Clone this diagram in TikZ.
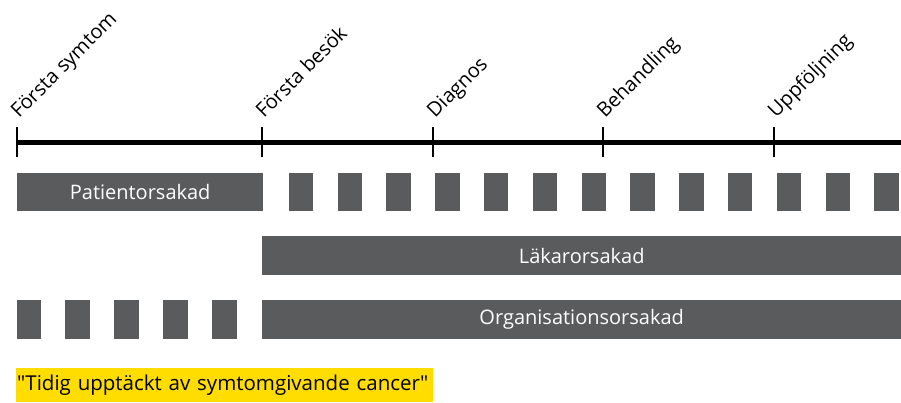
\documentclass[tikz,border=0pt]{standalone}
\usepackage{fontspec}
\setmainfont{Open Sans}
\definecolor{bargray}{HTML}{5A5B5D}
\definecolor{hiyellow}{HTML}{FFDD00}
\begin{document}
\begin{tikzpicture}[x=1pt,y=-1pt,
  bar/.style={fill=bargray, draw=none, inner sep=0pt, text=white, anchor=north west,
    font=\fontsize{20}{24}\selectfont},
  dashbox/.style={fill=bargray, draw=none, inner sep=0pt, anchor=north west,
    minimum width=24.5pt, minimum height=38pt},
  ticklab/.style={anchor=base west, rotate=45, inner sep=0pt,
    font=\fontsize{20}{24}\selectfont},
  tickline/.style={line width=2pt},
  axis/.style={line width=5pt}]
\useasboundingbox (0,0) rectangle (901,402);
% timeline
\coordinate (t0) at (16,142.5);
\coordinate (t1) at (901,142.5);
\draw[axis] (t0) -- (t1);
\foreach \x/\n/\t in {17/a/Första symtom, 262/b/Första besök, 433/c/Diagnos, 603/d/Behandling, 774/e/Uppföljning}{
  \coordinate (k\n top) at (\x,127);
  \coordinate (k\n bot) at (\x,157);
  \draw[tickline] (k\n top) -- (k\n bot);
  \node[ticklab] (lab\n) at (\x+2,119) {\t};
}
% row 1
\node[bar, minimum width=246pt, minimum height=38pt] (pat) at (17,173) {Patientorsakad};
\foreach \i in {0,...,12}{
  \node[dashbox] (d1\i) at (288.5+\i*48.8,173) {};
}
% row 2
\node[bar, minimum width=639pt, minimum height=39pt] (lak) at (262,236) {Läkarorsakad};
% row 3
\foreach \i in {0,...,4}{
  \node[dashbox, minimum height=39pt] (d3\i) at (16.3+\i*48.9,300) {};
}
\node[bar, minimum width=639pt, minimum height=39pt] (org) at (262,300) {Organisationsorsakad};
% yellow note
\node[fill=hiyellow, anchor=north west, minimum width=417pt, minimum height=34pt,
  inner sep=0pt, text width=417pt, align=left, font=\fontsize{20.5}{24}\selectfont]
  (note) at (16,368) {\hspace{1pt}\textquotedbl Tidig upptäckt av symtomgivande cancer\textquotedbl};
\end{tikzpicture}
\end{document}
